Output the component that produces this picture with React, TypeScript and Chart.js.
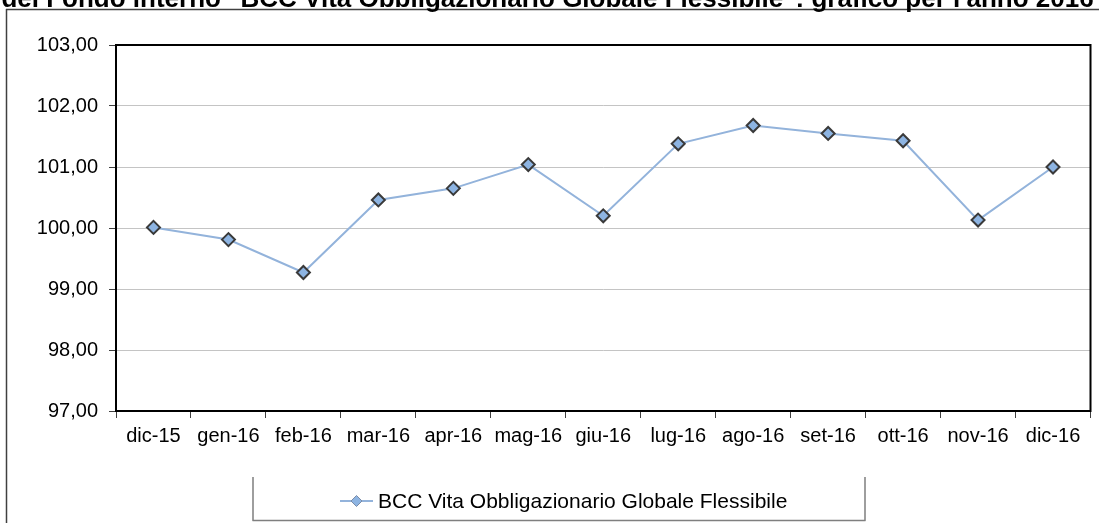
import React, { useEffect, useRef } from "react";
import { Chart, registerables } from "chart.js";

Chart.register(...registerables);

const categories = ["dic-15", "gen-16", "feb-16", "mar-16", "apr-16", "mag-16", "giu-16", "lug-16", "ago-16", "set-16", "ott-16", "nov-16", "dic-16"];
const seriesValues = [100.01, 99.81, 99.27, 100.46, 100.65, 101.04, 100.2, 101.38, 101.68, 101.55, 101.43, 100.13, 101.0];
const seriesName = "BCC Vita Obbligazionario Globale Flessibile";
const titleText = 'del Fondo interno "BCC Vita Obbligazionario Globale Flessibile": grafico per l\'anno 2016';
const yMin = 97;
const yMax = 103;
const yStep = 1;

const FONT = '"Liberation Sans", Arial, sans-serif';

const framePlugin = {
  id: "framePlugin",
  beforeDraw(chart: any) {
    const ctx = chart.ctx;
    ctx.save();
    ctx.fillStyle = "#ffffff";
    ctx.fillRect(0, 0, chart.width, chart.height);
    // outer frame
    ctx.strokeStyle = "#404040";
    ctx.lineWidth = 1.5;
    ctx.beginPath();
    ctx.moveTo(6.5, 9);
    ctx.lineTo(6.5, chart.height);
    ctx.moveTo(6, 9.5);
    ctx.lineTo(chart.width, 9.5);
    ctx.stroke();
    // title (clipped at top)
    ctx.fillStyle = "#000000";
    ctx.font = `bold 26px ${FONT}`;
    ctx.textAlign = "center";
    ctx.textBaseline = "alphabetic";
    ctx.fillText(titleText, chart.width / 2 - 2, 7);
    ctx.restore();
  },
  afterDraw(chart: any) {
    const ctx = chart.ctx;
    const a = chart.chartArea;
    ctx.save();
    // plot area border
    ctx.strokeStyle = "#000000";
    ctx.lineWidth = 2;
    ctx.strokeRect(a.left, a.top, a.right - a.left, a.bottom - a.top);
    // legend box
    ctx.strokeStyle = "#7f7f7f";
    ctx.lineWidth = 1.5;
    ctx.beginPath();
    ctx.moveTo(253, 477);
    ctx.lineTo(253, 521);
    ctx.moveTo(252.5, 520.5);
    ctx.lineTo(865.5, 520.5);
    ctx.moveTo(865, 477);
    ctx.lineTo(865, 521);
    ctx.stroke();
    // legend sample
    const ds = chart.data.datasets[0];
    const ly = 501;
    ctx.strokeStyle = ds.borderColor;
    ctx.lineWidth = 2;
    ctx.beginPath();
    ctx.moveTo(340, ly);
    ctx.lineTo(373, ly);
    ctx.stroke();
    ctx.fillStyle = ds.pointBackgroundColor;
    ctx.strokeStyle = "#7a8ca8";
    ctx.lineWidth = 1;
    ctx.beginPath();
    ctx.moveTo(356.5, ly - 5.5);
    ctx.lineTo(362, ly);
    ctx.lineTo(356.5, ly + 5.5);
    ctx.lineTo(351, ly);
    ctx.closePath();
    ctx.fill();
    ctx.stroke();
    ctx.fillStyle = "#000000";
    ctx.font = `21px ${FONT}`;
    ctx.textAlign = "left";
    ctx.textBaseline = "middle";
    ctx.fillText(ds.label, 378, ly + 1);
    ctx.restore();
  },
};

export default function App() {
  const canvasRef = useRef<HTMLCanvasElement | null>(null);

  useEffect(() => {
    if (!canvasRef.current) return;
    const chart = new Chart(canvasRef.current, {
      type: "line",
      data: {
        labels: categories,
        datasets: [
          {
            label: seriesName,
            data: seriesValues,
            borderColor: "#93b3db",
            borderWidth: 2,
            pointStyle: "rectRot",
            pointRadius: 6.5,
            pointBorderWidth: 2,
            pointBackgroundColor: "#8db4e2",
            pointBorderColor: "#3a3a3a",
            tension: 0,
            fill: false,
          },
        ],
      },
      options: {
        responsive: false,
        animation: false,
        devicePixelRatio: 1,
        layout: { padding: { left: 0, top: 45, right: 6, bottom: 0 } },
        plugins: {
          legend: { display: false },
          title: { display: false },
          tooltip: { enabled: false },
        },
        scales: {
          x: {
            type: "category",
            offset: true,
            afterFit(scale: any) {
              scale.height = 112;
            },
            grid: {
              offset: true,
              drawOnChartArea: false,
              drawTicks: true,
              tickLength: 7,
              tickColor: "#404040",
              lineWidth: 1,
            },
            border: { display: true, color: "#000000", width: 2 },
            ticks: {
              color: "#000000",
              font: { family: FONT, size: 20 },
              padding: 6,
              maxRotation: 0,
              autoSkip: false,
            },
          },
          y: {
            min: yMin,
            max: yMax,
            afterFit(scale: any) {
              scale.width = 116;
            },
            grid: {
              color: "#c4c4c4",
              lineWidth: 1,
              drawTicks: true,
              tickLength: 7,
              tickColor: "#404040",
            },
            border: { display: true, color: "#000000", width: 2 },
            ticks: {
              stepSize: yStep,
              color: "#000000",
              font: { family: FONT, size: 20 },
              padding: 11,
              callback: (v: any) => Number(v).toFixed(2).replace(".", ","),
            },
          },
        },
      },
      plugins: [framePlugin],
    });
    return () => chart.destroy();
  }, []);

  return (
    <div style={{ position: "fixed", left: 0, top: 0, width: 1099, height: 523, background: "#fff" }}>
      <canvas ref={canvasRef} width={1099} height={523} style={{ display: "block", width: 1099, height: 523 }} />
    </div>
  );
}
